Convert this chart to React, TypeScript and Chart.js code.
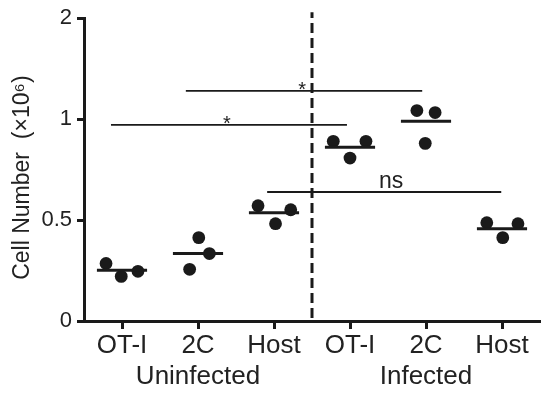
import React, { useEffect, useRef } from "react";
import { Chart, registerables } from "chart.js";

Chart.register(...registerables);

// ---- data ----
const CATEGORIES = ["OT-I", "2C", "Host", "OT-I", "2C", "Host"];
const GROUP_LABELS = ["Uninfected", "Infected"];
const GROUP_AT = [1, 4];
const Y_TICK_VALUES = [0, 0.5, 1, 2];
const Y_TITLE = "Cell Number  (×10⁶)";

const OTI_UNINF = [0.285, 0.221, 0.246];
const C2_UNINF = [0.256, 0.413, 0.334];
const HOST_UNINF = [0.571, 0.482, 0.551];
const OTI_INF = [0.89, 0.807, 0.89];
const C2_INF = [1.085, 0.88, 1.065];
const HOST_INF = [0.487, 0.413, 0.482];
const SERIES = [OTI_UNINF, C2_UNINF, HOST_UNINF, OTI_INF, C2_INF, HOST_INF];
const MEANS = [0.251, 0.334, 0.536, 0.861, 0.989, 0.457];

const SIG_LABELS = ["*", "*", "ns"];
const SIG_LEVELS = [1.279, 0.972, 0.639];
const SIG_FROM = [0.84, -0.145, 1.91];
const SIG_TO = [3.95, 2.96, 4.99];
const SIG_TEXT_X = [2.37, 1.38, 3.54];

// ---- layout / style constants ----
const JITTER = [
  [-0.21, -0.01, 0.21],
  [-0.11, 0.01, 0.15],
  [-0.21, 0.02, 0.22],
  [-0.22, 0, 0.21],
  [-0.12, -0.01, 0.12],
  [-0.2, 0.01, 0.21],
];
const MEAN_HALF = 0.33;
const INK = "#1a1a1a";
const TEXT = "#222222";
const FONT = "'Liberation Sans', Arial, sans-serif";

// segmented y axis: 0..1 linear, 1..2 compressed to half
const toAxis = (v: number) => (v <= 1 ? 2 * v : 2 + (v - 1));

const annotationPlugin = {
  id: "annotations",
  afterDatasetsDraw(chart: any) {
    const { ctx, scales, chartArea } = chart;
    const xs = scales.x;
    const ys = scales.y;
    ctx.save();
    ctx.fillStyle = TEXT;
    SIG_LABELS.forEach((lab, i) => {
      const px = xs.getPixelForValue(SIG_TEXT_X[i]);
      const py = ys.getPixelForValue(toAxis(SIG_LEVELS[i]));
      ctx.textAlign = "center";
      ctx.textBaseline = "alphabetic";
      if (lab === "ns") {
        ctx.font = `23px ${FONT}`;
        ctx.fillText(lab, px, py - 4);
      } else {
        ctx.font = `20px ${FONT}`;
        ctx.fillText(lab, px, py + 5);
      }
    });
    // y axis title
    ctx.translate(23, (chartArea.top + chartArea.bottom) / 2 + 8);
    ctx.rotate(-Math.PI / 2);
    ctx.font = `23px ${FONT}`;
    ctx.textAlign = "center";
    ctx.textBaseline = "middle";
    ctx.fillText(Y_TITLE, 0, 0);
    ctx.restore();
  },
};

export default function App() {
  const ref = useRef<HTMLCanvasElement | null>(null);

  useEffect(() => {
    if (!ref.current) return;
    const datasets: any[] = [];

    // significance bars
    SIG_LEVELS.forEach((lv, i) => {
      datasets.push({
        type: "scatter",
        data: [
          { x: SIG_FROM[i], y: toAxis(lv) },
          { x: SIG_TO[i], y: toAxis(lv) },
        ],
        showLine: true,
        borderColor: INK,
        borderWidth: 1.8,
        pointRadius: 0,
      });
    });

    // dashed divider between groups
    datasets.push({
      type: "scatter",
      data: [
        { x: 2.5, y: 0.03 },
        { x: 2.5, y: 3.06 },
      ],
      showLine: true,
      borderColor: INK,
      borderWidth: 3,
      borderDash: [10, 5],
      pointRadius: 0,
      clip: false,
    });

    // mean lines
    MEANS.forEach((m, i) => {
      datasets.push({
        type: "scatter",
        data: [
          { x: i - MEAN_HALF, y: toAxis(m) },
          { x: i + MEAN_HALF, y: toAxis(m) },
        ],
        showLine: true,
        borderColor: INK,
        borderWidth: 3,
        pointRadius: 0,
      });
    });

    // points
    datasets.push({
      type: "scatter",
      data: SERIES.flatMap((vals, i) =>
        vals.map((v, j) => ({ x: i + JITTER[i][j], y: toAxis(v) }))
      ),
      backgroundColor: INK,
      borderWidth: 0,
      pointRadius: 6.4,
    });

    const chart = new Chart(ref.current, {
      type: "scatter",
      data: { datasets },
      plugins: [annotationPlugin],
      options: {
        animation: false,
        responsive: false,
        devicePixelRatio: 1,
        layout: { padding: { top: 16, right: 10, left: 0, bottom: 0 } },
        plugins: { legend: { display: false }, tooltip: { enabled: false } },
        scales: {
          x: {
            type: "linear",
            min: -0.5,
            max: 5.5,
            afterFit: (s: any) => {
              s.height = 75;
            },
            afterBuildTicks: (s: any) => {
              s.ticks = CATEGORIES.map((_, i) => ({ value: i }));
            },
            ticks: {
              autoSkip: false,
              maxRotation: 0,
              padding: 1,
              color: TEXT,
              font: { family: FONT, size: 26, lineHeight: 1.2 },
              callback: (v: any) => {
                const i = Math.round(Number(v));
                const g = GROUP_AT.indexOf(i);
                return g >= 0 ? [CATEGORIES[i], GROUP_LABELS[g]] : CATEGORIES[i];
              },
            },
            grid: {
              drawOnChartArea: false,
              drawTicks: true,
              tickLength: 8,
              tickWidth: 3,
              tickColor: INK,
            },
            border: { display: true, color: INK, width: 3 },
          },
          y: {
            type: "linear",
            min: 0,
            max: 3,
            afterFit: (s: any) => {
              s.width = 84;
            },
            afterBuildTicks: (s: any) => {
              s.ticks = Y_TICK_VALUES.map((v) => ({ value: toAxis(v) }));
            },
            ticks: {
              padding: 5,
              color: TEXT,
              font: { family: FONT, size: 22 },
              callback: (_v: any, idx: number) => String(Y_TICK_VALUES[idx]),
            },
            grid: {
              drawOnChartArea: false,
              drawTicks: true,
              tickLength: 7,
              tickWidth: 3,
              tickColor: INK,
            },
            border: { display: true, color: INK, width: 3 },
          },
        },
      },
    });
    return () => chart.destroy();
  }, []);

  return (
    <div style={{ position: "absolute", left: 0, top: 0, width: 550, height: 396, background: "#fff" }}>
      <canvas ref={ref} width={550} height={396} />
    </div>
  );
}
